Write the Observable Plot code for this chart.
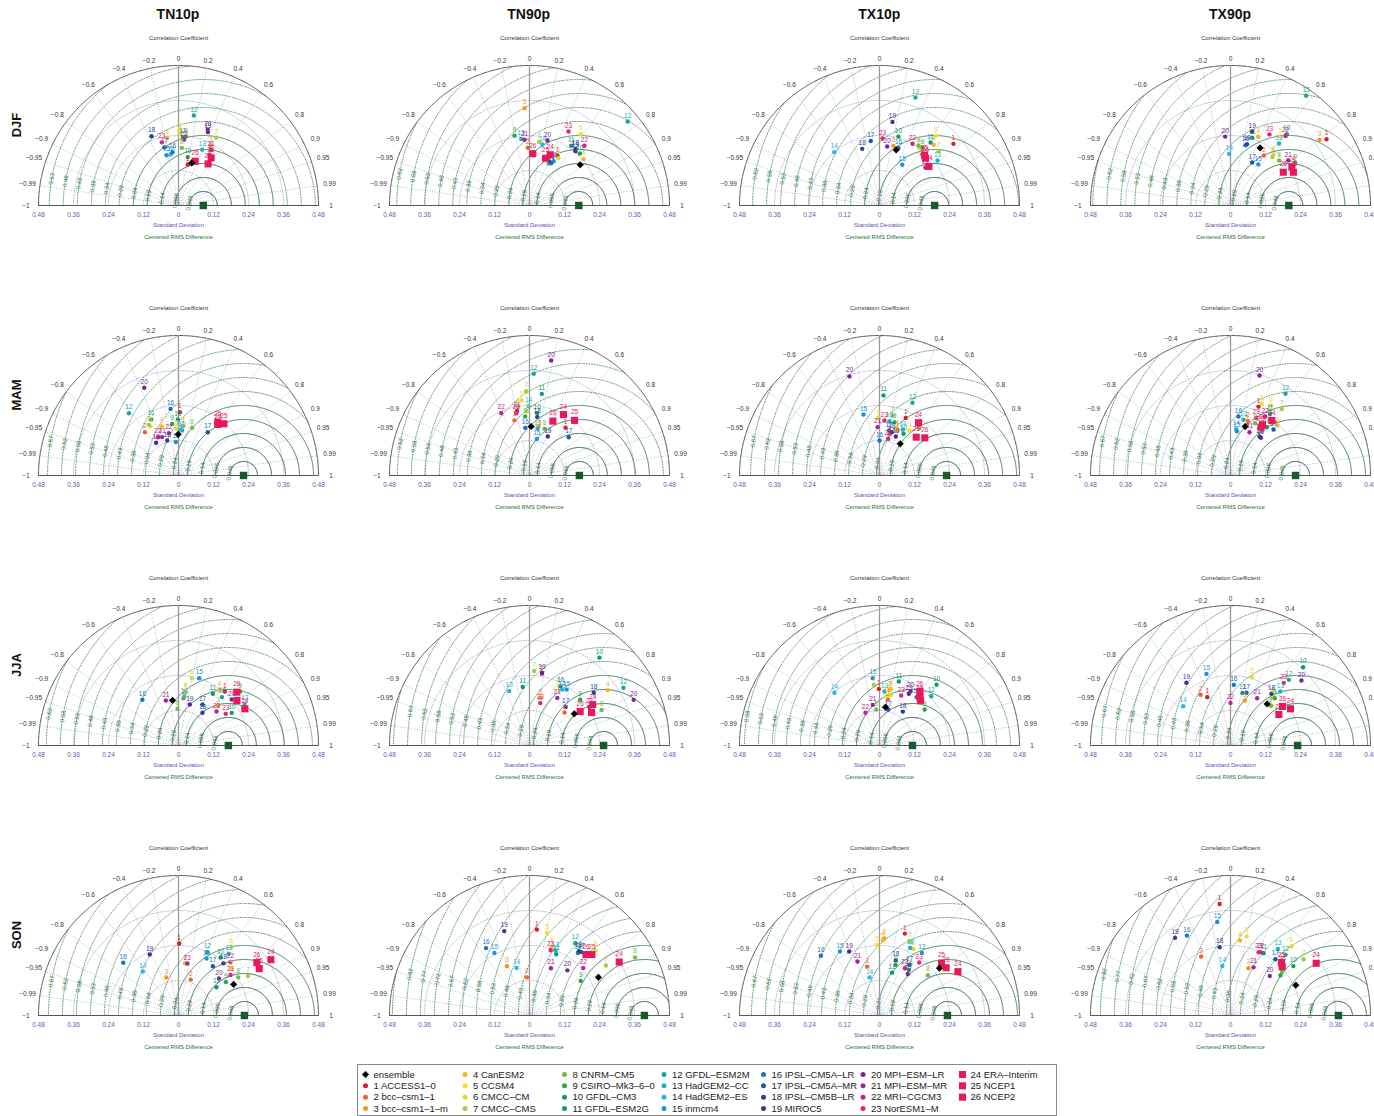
<!DOCTYPE html>
<html>
<head>
<meta charset="utf-8">
<script src="https://cdn.jsdelivr.net/npm/d3@7"></script>
<script src="https://cdn.jsdelivr.net/npm/@observablehq/plot@0.6"></script>
<style>
html, body { margin: 0; padding: 0; background: #fff; overflow: hidden; }
#fig { position: relative; width: 1374px; height: 1116px; font-family: "Liberation Sans", Arial, sans-serif; color: #111; }
.panel { position: absolute; width: 350px; height: 230px; }
.ttl { position: absolute; top: 6px; font-weight: bold; font-size: 14px; transform: translateX(-50%); white-space: nowrap; }
.row { position: absolute; left: 16px; font-weight: bold; font-size: 13px; transform: translate(-50%, -50%) rotate(-90deg); }
#legend { position: absolute; left: 357px; top: 1064px; width: 698px; height: 50px; border: 1px solid #8a8a8a; }
</style>
</head>
<body>
<div id="fig"></div>
<script>
// ---- categories ----
const indices = ["TN10p", "TN90p", "TX10p", "TX90p"];
const seasons = ["DJF", "MAM", "JJA", "SON"];
const members = ["ensemble", "1 ACCESS1–0", "2 bcc–csm1–1", "3 bcc–csm1–1–m", "4 CanESM2", "5 CCSM4",
  "6 CMCC–CM", "7 CMCC–CMS", "8 CNRM–CM5", "9 CSIRO–Mk3–6–0", "10 GFDL–CM3", "11 GFDL–ESM2G",
  "12 GFDL–ESM2M", "13 HadGEM2–CC", "14 HadGEM2–ES", "15 inmcm4", "16 IPSL–CM5A–LR", "17 IPSL–CM5A–MR",
  "18 IPSL–CM5B–LR", "19 MIROC5", "20 MPI–ESM–LR", "21 MPI–ESM–MR", "22 MRI–CGCM3", "23 NorESM1–M",
  "24 ERA–Interim", "25 NCEP1", "26 NCEP2"];
const memberColors = ["#000000", "#e41a2a", "#f0642c", "#f5961f", "#f5b625", "#f2df1e", "#d9dc2c", "#a9cc3c",
  "#6fbb47", "#27a74a", "#0f9f5c", "#0d9a78", "#14a8a0", "#18b4c8", "#25b5e8", "#1e91d8", "#1a72c4",
  "#1b56a8", "#2a3f97", "#4b2d91", "#7a2994", "#a0249a", "#c92190", "#e8207a", "#e8195a", "#e8195a", "#e8195a"];

// ---- observed reference standard deviation, [season][index] ----
const refSD = [
  [0.085, 0.169, 0.189, 0.200],
  [0.223, 0.171, 0.230, 0.223],
  [0.171, 0.254, 0.113, 0.230],
  [0.226, 0.394, 0.233, 0.370]
];

// ---- [standard deviation, correlation] per member (ensemble, models 1-23, reanalyses 24-26) ----
const tn10p_djf = [[.153,.298],[.144,.222],[.205,.519],[.234,.478],[.235,-.165],[.257,.013],[.246,.018],[.266,.486],[.198,.058],[.238,.105],
  [.169,.19],[.235,.063],[.313,.168],[.208,.39],[.177,-.149],[.177,-.232],[.184,-.112],[.205,-.234],[.255,-.363],[.271,.371],
  [.279,.36],[.221,.506],[.227,.086],[.224,-.256],[.198,.565],[.175,.58],[.162,.352]];
const tn90p_djf = [[.223,.78],[.196,.489],[.198,-.029],[.334,-.051],[.244,.759],[.301,.582],[.19,.52],[.22,.151],[.157,.415],[.245,-.21],
  [.248,.696],[.25,.573],[.443,.76],[.23,-.124],[.214,.208],[.173,.48],[.163,.456],[.166,.414],[.25,.63],[.244,.646],
  [.231,.267],[.226,-.076],[.278,.677],[.287,.466],[.188,.378],[.171,.32],[.178,.064]];
const tx10p_djf = [[.199,.287],[.33,.768],[.228,.642],[.21,.228],[.279,.667],[.308,.631],[.24,.567],[.275,.736],[.245,.545],[.248,.596],
  [.245,.265],[.278,.63],[.39,.316],[.252,.79],[.24,-.647],[.16,.487],[.208,.313],[.223,-.134],[.203,-.292],[.29,.153],
  [.204,.129],[.204,.773],[.24,.472],[.23,.045],[.216,.784],[.231,.669],[.226,.697]];
const tx90p_djf = [[.222,.457],[.4,.823],[.206,.555],[.379,.805],[.254,.374],[.292,.585],[.229,.645],[.22,.653],[.227,.734],[.266,.833],
  [.311,.621],[.244,.305],[.457,.568],[.27,.617],[.177,-.026],[.17,.56],[.213,.241],[.165,.45],[.218,.26],[.264,.281],
  [.237,-.077],[.251,.788],[.304,.621],[.278,.481],[.248,.848],[.244,.884],[.214,.846]];

const tn10p_mam = [[.141,-.008],[.217,.021],[.188,-.613],[.169,.088],[.178,-.322],[.194,-.496],[.16,-.036],[.201,-.505],[.17,.275],[.178,-.122],
  [.192,-.012],[.214,-.438],[.273,-.623],[.155,.082],[.157,.044],[.115,-.081],[.23,-.119],[.179,.561],[.126,-.307],[.136,-.564],
  [.323,-.364],[.143,-.392],[.149,-.223],[.149,-.474],[.221,.611],[.236,.66],[.227,.594]];
const tn90p_mam = [[.168,.034],[.205,.603],[.196,-.263],[.171,.181],[.238,-.168],[.259,-.102],[.22,-.036],[.289,-.039],[.168,.306],[.203,-.073],
  [.215,.122],[.283,.149],[.349,.042],[.163,.169],[.237,-.014],[.128,.196],[.164,-.09],[.188,.716],[.202,.131],[.148,.425],
  [.401,.185],[.225,-.19],[.235,-.414],[.218,-.209],[.239,.487],[.244,.633],[.203,.395]];
const tx10p_mam = [[.13,.546],[.217,.415],[.145,.237],[.165,.359],[.17,.362],[.185,.555],[.198,-.017],[.21,.212],[.212,.645],[.19,.271],
  [.165,.499],[.275,.05],[.274,.413],[.189,.181],[.176,.455],[.216,-.254],[.12,0],[.158,.21],[.154,.273],[.145,.386],
  [.355,-.29],[.166,-.041],[.129,.23],[.189,.09],[.225,.595],[.182,.692],[.202,.769]];
const tx90p_mam = [[.175,.287],[.255,.376],[.196,.304],[.184,.305],[.235,.685],[.268,.4],[.277,.499],[.288,.61],[.198,.427],[.237,.573],
  [.207,.601],[.251,.541],[.338,.558],[.196,.227],[.161,.121],[.153,.141],[.204,.134],[.216,.683],[.167,.597],[.166,.627],
  [.357,.279],[.162,.402],[.235,.507],[.216,.407],[.236,.601],[.196,.532],[.206,.534]];

const tn10p_jja = [[.156,-.132],[.244,.651],[.163,.105],[.193,.704],[.238,.591],[.182,.137],[.235,.194],[.184,.125],[.126,-.027],[.281,.752],
  [.214,.853],[.213,.553],[.223,.668],[.268,.847],[.169,.115],[.241,.294],[.2,-.619],[.163,.505],[.139,.592],[.146,.266],
  [.241,.757],[.16,-.271],[.175,.745],[.195,.831],[.26,.875],[.253,.792],[.271,.738]];
const tn90p_jja = [[.188,.816],[.25,.17],[.165,.728],[.167,.222],[.329,.817],[.218,.477],[.227,.448],[.256,.063],[.276,.897],[.234,.742],
  [.385,.623],[.202,-.115],[.378,.852],[.199,-.35],[.222,.505],[.23,.553],[.23,.464],[.181,.685],[.285,.773],[.253,.169],
  [.39,.916],[.189,.504],[.244,.841],[.15,.247],[.258,.84],[.241,.883],[.209,.831]];
const tx10p_jja = [[.133,.155],[.194,-.012],[.16,.178],[.195,.176],[.197,.2],[.171,.141],[.176,.215],[.209,-.093],[.124,-.092],[.198,.781],
  [.286,.684],[.229,.289],[.245,.724],[.186,.092],[.238,-.649],[.232,-.099],[.209,.608],[.127,.235],[.141,.566],[.204,.494],
  [.214,.498],[.141,-.162],[.122,-.394],[.187,.398],[.209,.673],[.216,.641],[.231,.598]];
const tx90p_jja = [[.19,.661],[.184,-.434],[.202,-.509],[.162,.303],[.219,.656],[.246,.302],[.224,.655],[.196,.72],[.194,.707],[.222,.684],
  [.366,.68],[.185,.222],[.301,.664],[.252,.679],[.211,-.769],[.259,-.318],[.208,.055],[.189,.291],[.226,.621],[.263,-.575],
  [.33,.737],[.186,.491],[.146,0],[.282,.648],[.241,.853],[.197,.842],[.223,.8]];

const tn10p_son = [[.217,.871],[.247,.01],[.13,.323],[.137,-.307],[.18,.12],[.241,.749],[.296,.609],[.274,.869],[.243,.843],[.199,.816],
  [.246,.587],[.162,.802],[.238,.414],[.273,.632],[.194,-.631],[.218,.442],[.262,-.724],[.206,.572],[.236,.653],[.231,-.427],
  [.188,.737],[.181,.167],[.256,.697],[.226,.789],[.37,.856],[.32,.865],[.324,.829]];
const tn90p_son = [[.27,.875],[.296,.085],[.131,-.064],[.186,-.415],[.247,.307],[.29,.207],[.318,.712],[.313,.837],[.413,.876],[.212,.829],
  [.271,.612],[.229,.4],[.293,.535],[.24,.371],[.169,-.264],[.246,-.489],[.275,-.542],[.281,.634],[.278,.609],[.302,-.287],
  [.202,.643],[.178,.413],[.246,.749],[.235,.308],[.358,.859],[.299,.716],[.285,.68]];
const tx10p_son = [[.262,.785],[.294,.296],[.173,-.246],[.265,.06],[.258,.045],[.243,-.033],[.256,.455],[.275,.381],[.216,.768],[.182,.305],
  [.186,.543],[.153,.28],[.259,.562],[.254,.413],[.135,-.254],[.258,-.525],[.287,-.7],[.202,.51],[.197,.283],[.243,-.428],
  [.172,.563],[.2,-.377],[.184,.474],[.227,.6],[.308,.873],[.278,.765],[.281,.813]];
const tx90p_son = [[.247,.907],[.384,-.097],[.226,-.446],[.173,.355],[.259,.126],[.277,.2],[.316,.661],[.316,.792],[.232,.763],[.22,.778],
  [.274,.786],[.242,.469],[.281,.672],[.28,.58],[.172,-.162],[.324,-.14],[.312,-.479],[.247,.624],[.237,-.157],[.327,-.581],
  [.191,.705],[.183,.431],[.24,.43],[.237,.407],[.344,.854],[.252,.694],[.244,.727]];

const panelData = [
  [tn10p_djf, tn90p_djf, tx10p_djf, tx90p_djf],
  [tn10p_mam, tn90p_mam, tx10p_mam, tx90p_mam],
  [tn10p_jja, tn90p_jja, tx10p_jja, tx90p_jja],
  [tn10p_son, tn90p_son, tx10p_son, tx90p_son]
];

// ---- diagram furniture ----
const SDMAX = 0.48;
const sdArcs = [0.12, 0.24, 0.36];
const sdTickLabels = [-0.48, -0.36, -0.24, -0.12, 0, 0.12, 0.24, 0.36, 0.48];
const corrRays = [-0.99, -0.95, -0.9, -0.8, -0.6, -0.4, -0.2, 0.2, 0.4, 0.6, 0.8, 0.9, 0.95, 0.99];
const corrTickLabels = [-1, -0.99, -0.95, -0.9, -0.8, -0.6, -0.4, -0.2, 0, 0.2, 0.4, 0.6, 0.8, 0.9, 0.95, 0.99, 1];
const rmsStep = 0.048;

const signed = v => (v < 0 ? "\u2212" : "") + Math.abs(v);
const deg = d3.range(0, 180.5, 0.5);

function arc(r, g) {
  return deg.map(a => ({x: r * Math.cos(a * Math.PI / 180), y: r * Math.sin(a * Math.PI / 180), g}));
}

function panel(data, s0) {
  const pts = data.map(([sd, corr], id) => ({id, sd, corr, x: sd * corr, y: sd * Math.sqrt(1 - corr * corr)}));
  const models = pts.filter(d => d.id >= 1 && d.id <= 23);
  const rean = pts.filter(d => d.id >= 24);
  const ens = pts.filter(d => d.id === 0);

  // centred RMS difference circles around the reference point
  const rmsLines = [], rmsLabels = [];
  const nRms = Math.floor((SDMAX + s0) / rmsStep);
  const green = d3.interpolateRgb("#0a4a22", "#5f9f73");
  for (let k = 1; k <= nRms; k++) {
    const rho = Math.round(k * rmsStep * 1000) / 1000;
    const col = green(Math.min(1, (k - 1) / 6));
    const solid = rho < 0.26;
    deg.forEach(a => {
      const t = a * Math.PI / 180;
      const x = s0 + rho * Math.cos(t), y = rho * Math.sin(t);
      if (Math.hypot(x, y) <= SDMAX + 1e-9) rmsLines.push({x, y, g: k, c: col, solid});
    });
    const t = 170 * Math.PI / 180;
    const lx = s0 + rho * Math.cos(t), ly = rho * Math.sin(t);
    if (Math.hypot(lx, ly) < SDMAX - 0.01)
      rmsLabels.push({x: lx, y: ly, t: rho < 0.1 ? rho.toFixed(3) : rho.toFixed(2)});
  }

  const sdArcPts = sdArcs.flatMap((r, i) => arc(r, i));
  const font = "Liberation Sans, Arial, sans-serif";

  return Plot.plot({
    width: 350, height: 230, margin: 0,
    x: {domain: [-0.6, 0.6], axis: null},
    y: {domain: [-0.1646, 0.624], axis: null},
    color: {type: "identity"},
    style: {background: "transparent", overflow: "visible", fontFamily: font},
    marks: [
      Plot.line(sdArcPts, {x: "x", y: "y", z: "g", stroke: "#aaaad4", strokeWidth: 0.8, strokeDasharray: "1,1.5"}),
      Plot.link(corrRays, {x1: 0, y1: 0, x2: c => SDMAX * c, y2: c => SDMAX * Math.sqrt(1 - c * c),
        stroke: "#aaaad4", strokeWidth: 0.8, strokeDasharray: "1,1.5"}),
      Plot.line(rmsLines.filter(d => !d.solid), {x: "x", y: "y", z: "g", stroke: "c", strokeWidth: 1, strokeDasharray: "1,1.6"}),
      Plot.line(rmsLines.filter(d => d.solid), {x: "x", y: "y", z: "g", stroke: "c", strokeWidth: 1}),
      Plot.text(rmsLabels, {x: "x", y: "y", text: "t", rotate: -80, fill: "#2f7a45", fontSize: 6}),
      Plot.line(arc(SDMAX, 0), {x: "x", y: "y", stroke: "#555", strokeWidth: 1}),
      Plot.ruleY([0], {x1: -SDMAX, x2: SDMAX, stroke: "#555", strokeWidth: 1}),
      Plot.ruleX([0], {y1: 0, y2: SDMAX, stroke: "#999", strokeWidth: 1.3}),
      Plot.text(corrTickLabels, {
        x: c => (0.503 + 0.02 * Math.abs(c)) * c,
        y: c => (0.503 + 0.02 * Math.abs(c)) * Math.sqrt(1 - c * c),
        text: c => c === 0 ? "0" : signed(c), fill: "#333", fontSize: 6.5}),
      Plot.text(sdTickLabels, {x: d => d, y: 0, dy: 9, text: d => String(Math.abs(d)), fill: "#5b5bb5", fontSize: 6.5}),
      Plot.text(["Correlation Coefficient"], {x: 0, y: 0, dy: -167, text: d => d, fill: "#333", fontSize: 6}),
      Plot.text(["Standard Deviation"], {x: 0, y: 0, dy: 20, text: d => d, fill: "#5555b0", fontSize: 6}),
      Plot.text(["Centered RMS Difference"], {x: 0, y: 0, dy: 32, text: d => d, fill: "#2d6e3a", fontSize: 6}),
      Plot.dot([s0], {x: d => d, y: 0, symbol: "square", r: 4.2, fill: "#165a2e"}),
      Plot.dot(models, {x: "x", y: "y", r: 2.2, fill: d => memberColors[d.id]}),
      Plot.text(models, {x: "x", y: "y", dy: -6, text: d => String(d.id), fill: d => memberColors[d.id], fontSize: 6.5}),
      Plot.dot(rean, {x: "x", y: "y", symbol: "square", r: 4, fill: d => memberColors[d.id]}),
      Plot.text(rean, {x: "x", y: "y", dy: -8, text: d => String(d.id), fill: d => memberColors[d.id], fontSize: 6.5}),
      Plot.dot(ens, {x: "x", y: "y", symbol: "diamond2", r: 3, fill: "#000", stroke: "#000", strokeWidth: 0.5})
    ]
  });
}

// ---- page layout ----
const fig = document.getElementById("fig");
const colCenter = j => 178 + 350.67 * j;
const baseline = i => 205 + 270 * i;

indices.forEach((name, j) => {
  const t = document.createElement("div");
  t.className = "ttl";
  t.style.left = colCenter(j) + "px";
  t.textContent = name;
  fig.appendChild(t);
});
seasons.forEach((name, i) => {
  const t = document.createElement("div");
  t.className = "row";
  t.style.top = (baseline(i) - 80) + "px";
  t.textContent = name;
  fig.appendChild(t);
});

panelData.forEach((row, i) => row.forEach((data, j) => {
  const div = document.createElement("div");
  div.className = "panel";
  div.style.left = (colCenter(j) - 175) + "px";
  div.style.top = (baseline(i) - 182) + "px";
  div.appendChild(panel(data, refSD[i][j]));
  fig.appendChild(div);
}));

// ---- legend ----
const legendItems = members.map((label, id) => ({id, label, col: Math.floor(id / 4), row: id % 4}));
const lg = document.createElement("div");
lg.id = "legend";
lg.appendChild(Plot.plot({
  width: 698, height: 50, margin: 0,
  x: {domain: [0, 6], range: [7, 604], axis: null},
  y: {domain: [0, 3], range: [9, 43], axis: null},
  color: {type: "identity"},
  style: {background: "transparent", overflow: "visible", fontFamily: "Liberation Sans, Arial, sans-serif"},
  marks: [
    Plot.dot(legendItems.filter(d => d.id >= 1 && d.id <= 23), {x: "col", y: "row", r: 2.5, fill: d => memberColors[d.id]}),
    Plot.dot(legendItems.filter(d => d.id >= 24), {x: "col", y: "row", symbol: "square", r: 4, fill: d => memberColors[d.id]}),
    Plot.dot(legendItems.filter(d => d.id === 0), {x: "col", y: "row", symbol: "diamond2", r: 3, fill: "#000", stroke: "#000", strokeWidth: 0.5}),
    Plot.text(legendItems, {x: "col", y: "row", dx: 8, text: "label", textAnchor: "start", fill: "#222", fontSize: 9.5})
  ]
}));
fig.appendChild(lg);
</script>
</body>
</html>
